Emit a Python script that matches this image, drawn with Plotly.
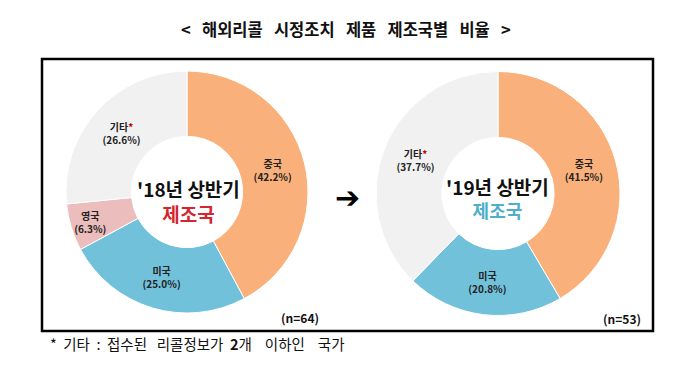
import plotly.graph_objects as go


def nb(k):
    return "&nbsp;" * k


title_text = (f"&lt;{nb(3)}해외리콜{nb(3)}시정조치{nb(3)}제품{nb(3)}제조국별{nb(3)}비율{nb(3)}&gt;")
footnote = (f"*{nb(2)}기타{nb(2)}:{nb(2)}접수된{nb(3)}리콜정보가{nb(2)}<b>2</b>개"
            f"{nb(4)}이하인{nb(4)}국가")

labels_18 = ["중국", "미국", "영국", "기타"]
values_18 = [42.2, 25.0, 6.3, 26.6]
labels_19 = ["중국", "미국", "기타"]
values_19 = [41.5, 20.8, 37.7]
n_18 = 64
n_19 = 53
center_18 = ["'18년 상반기", "제조국"]
center_19 = ["'19년 상반기", "제조국"]

color_map = {"중국": "#F9B07A", "미국": "#72C1DA", "영국": "#EBBDBD", "기타": "#F1F1F1"}
FONT = "Noto Sans CJK KR"


def label_text(lbl, val):
    star = "<span style='color:#C00000'>*</span>" if lbl == "기타" else ""
    return f"<b>{lbl}{star}<br>({val:.1f}%)</b>"


fig = go.Figure()
for labels, values, dom in [
    (labels_18, values_18, dict(x=[66 / 700, 308 / 700], y=[1 - 316 / 388, 1 - 68 / 388])),
    (labels_19, values_19, dict(x=[376 / 700, 620 / 700], y=[1 - 317 / 388, 1 - 70 / 388])),
]:
    fig.add_trace(go.Pie(
        labels=labels, values=values, sort=False, direction="clockwise", rotation=0,
        hole=0.46, domain=dom,
        marker=dict(colors=[color_map[l] for l in labels], line=dict(color="white", width=1)),
        text=[label_text(l, v) for l, v in zip(labels, values)],
        textinfo="text", textposition="inside", insidetextorientation="horizontal",
        textfont=dict(family=FONT, size=10, color="#222222"),
        hoverinfo="skip", showlegend=False,
    ))


def A(x, y, text, size, color="#111111", xanchor="center", family=FONT):
    return dict(x=x / 700, y=1 - y / 388, xref="paper", yref="paper", text=text,
                showarrow=False, xanchor=xanchor, yanchor="middle",
                font=dict(family=family, size=size, color=color))


ann = [A(346, 29, f"<b>{title_text}</b>", 16.5)]
ann.append(A(188, 201,
             f"<b>{center_18[0]}</b><br><span style='color:#D42531'><b>{center_18[1]}</b></span>", 19))
ann.append(A(497, 198,
             f"<span style='font-size:19px'><b>{center_19[0]}</b></span><br>"
             f"<span style='color:#4DAFC8'><b>{center_19[1]}</b></span>", 18))
ann.append(A(300, 317, f"<b>(n={n_18})</b>", 12))
ann.append(A(622, 318, f"<b>(n={n_19})</b>", 12))
ann.append(A(347, 197, "<b>➔</b>", 30, "#000000", family="DejaVu Sans"))
ann.append(A(48, 343, footnote, 14.5, xanchor="left"))

fig.update_layout(
    width=700, height=388, margin=dict(l=0, r=0, t=0, b=0),
    paper_bgcolor="white", plot_bgcolor="white",
    annotations=ann,
    shapes=[dict(type="rect", xref="paper", yref="paper",
                 x0=42 / 700, x1=653 / 700, y0=1 - 331 / 388, y1=1 - 59 / 388,
                 line=dict(color="black", width=2.5))],
    uniformtext=dict(minsize=10, mode="show"),
)
fig.write_html("out.html", config={"displayModeBar": False},
               post_script="document.body.style.margin='0';")
